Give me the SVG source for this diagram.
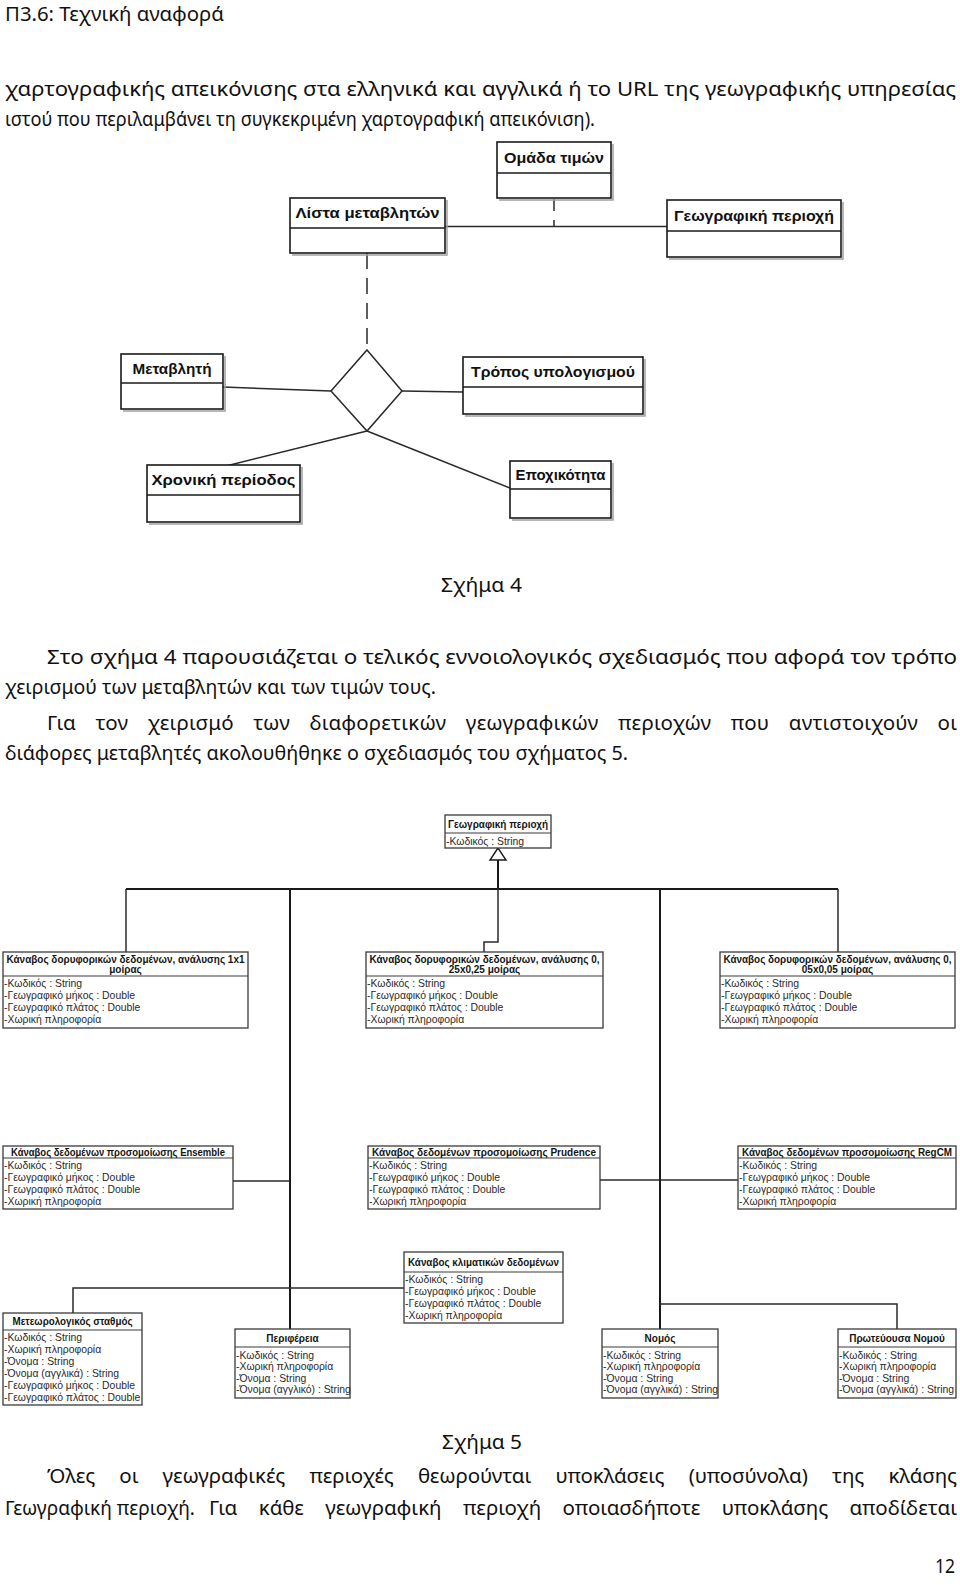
<svg xmlns="http://www.w3.org/2000/svg" width="960" height="1585" viewBox="0 0 960 1585">
<defs>
<style>
.t{font-family:"Noto Sans","DejaVu Sans",sans-serif;font-size:20.5px;fill:#111}
.h4{font-family:"Liberation Sans",Arial,sans-serif;font-weight:bold;font-size:15px;fill:#111;text-anchor:middle}
.b4{fill:#fff;stroke:#1a1a1a;stroke-width:1.6}
.sh{fill:none;stroke:#a0a0a0;stroke-width:1.5}
.dv4{stroke:#1a1a1a;stroke-width:1.4}
.c{fill:#fff;stroke:#3a3a3a;stroke-width:1.3}
.d{stroke:#3a3a3a;stroke-width:1.1}
.ch{font-family:"Liberation Sans",Arial,sans-serif;font-weight:bold;font-size:10px;fill:#151515;text-anchor:middle}
.ca{font-family:"Liberation Sans",Arial,sans-serif;font-size:10.4px;fill:#2a2a2a}
.l{fill:none;stroke:#2a2a2a;stroke-width:1.5}
.l2{fill:none;stroke:#1a1a1a;stroke-width:2}
.ds{stroke-dasharray:16 9}
</style>
</defs>
<rect width="960" height="1585" fill="#fff"/>

<g id="page-text">
<text class="t" x="5" y="21" font-size="16.5" textLength="219" lengthAdjust="spacingAndGlyphs">Π3.6: Τεχνική αναφορά</text>
<text class="t" x="5" y="96" textLength="951" lengthAdjust="spacingAndGlyphs">χαρτογραφικής απεικόνισης στα ελληνικά και αγγλικά ή το URL της γεωγραφικής υπηρεσίας</text>
<text class="t" x="5" y="126" textLength="590" lengthAdjust="spacingAndGlyphs">ιστού που περιλαμβάνει τη συγκεκριμένη χαρτογραφική απεικόνιση).</text>
<text class="t" x="441" y="592" textLength="81" lengthAdjust="spacingAndGlyphs">Σχήμα 4</text>
<text class="t" x="47" y="664" textLength="910" lengthAdjust="spacingAndGlyphs">Στο σχήμα 4 παρουσιάζεται ο τελικός εννοιολογικός σχεδιασμός που αφορά τον τρόπο</text>
<text class="t" x="5" y="694" textLength="431" lengthAdjust="spacingAndGlyphs">χειρισμού των μεταβλητών και των τιμών τους.</text>
<text class="t" x="47" y="730" word-spacing="14" textLength="910" lengthAdjust="spacing">Για τον χειρισμό των διαφορετικών γεωγραφικών περιοχών που αντιστοιχούν οι</text>
<text class="t" x="5" y="760" textLength="623" lengthAdjust="spacingAndGlyphs">διάφορες μεταβλητές ακολουθήθηκε ο σχεδιασμός του σχήματος 5.</text>
<text class="t" x="442" y="1449" textLength="80" lengthAdjust="spacingAndGlyphs">Σχήμα 5</text>
<text class="t" x="47" y="1483" word-spacing="19" textLength="910" lengthAdjust="spacing">Όλες οι γεωγραφικές περιοχές θεωρούνται υποκλάσεις (υποσύνολα) της κλάσης</text>
<text class="t" x="5" y="1515" font-size="16" textLength="190" lengthAdjust="spacingAndGlyphs">Γεωγραφική περιοχή.</text>
<text class="t" x="209" y="1515" word-spacing="16" textLength="748" lengthAdjust="spacing">Για κάθε γεωγραφική περιοχή οποιασδήποτε υποκλάσης αποδίδεται</text>
<text class="t" x="935" y="1573" textLength="20" lengthAdjust="spacingAndGlyphs">12</text>
</g>

<!-- Figure 4 connectors -->
<g id="fig4-connectors">
<line class="l" x1="445" y1="226.5" x2="667" y2="226.5"/>
<line class="l ds" x1="554" y1="199" x2="554" y2="226.5" stroke-dashoffset="4"/>
<line class="l ds" x1="367" y1="253" x2="367" y2="350"/>
<line class="l" x1="223" y1="387" x2="331" y2="391"/>
<line class="l" x1="402" y1="391" x2="463" y2="392"/>
<line class="l" x1="367" y1="431" x2="226" y2="466"/>
<line class="l" x1="367" y1="431" x2="510" y2="488"/>
</g>

<g id="fig4-diamond">
<polygon points="367,350 402,391 367,431 331,391" fill="#fff" stroke="#2a2a2a" stroke-width="1.5"/>
</g>

<g id="n-omada">
<polyline class="sh" points="499,200 613,200 613,144"/>
<rect class="b4" x="497" y="142" width="114" height="56"/>
<line class="dv4" x1="497" y1="173" x2="611" y2="173"/>
<text class="h4" x="554" y="163" textLength="100" lengthAdjust="spacingAndGlyphs">Ομάδα τιμών</text>
</g>
<g id="n-lista">
<polyline class="sh" points="292,255 447,255 447,200"/>
<rect class="b4" x="290" y="198" width="155" height="55"/>
<line class="dv4" x1="290" y1="228" x2="445" y2="228"/>
<text class="h4" x="367.5" y="218" textLength="144" lengthAdjust="spacingAndGlyphs">Λίστα μεταβλητών</text>
</g>
<g id="n-geo4">
<polyline class="sh" points="669,259 843,259 843,202"/>
<rect class="b4" x="667" y="200" width="174" height="57"/>
<line class="dv4" x1="667" y1="231" x2="841" y2="231"/>
<text class="h4" x="754" y="221" textLength="160" lengthAdjust="spacingAndGlyphs">Γεωγραφική περιοχή</text>
</g>
<g id="n-metavliti">
<polyline class="sh" points="123,411 225,411 225,356"/>
<rect class="b4" x="121" y="354" width="102" height="55"/>
<line class="dv4" x1="121" y1="383" x2="223" y2="383"/>
<text class="h4" x="172" y="374" textLength="79" lengthAdjust="spacingAndGlyphs">Μεταβλητή</text>
</g>
<g id="n-tropos">
<polyline class="sh" points="465,416 645,416 645,359"/>
<rect class="b4" x="463" y="357" width="180" height="57"/>
<line class="dv4" x1="463" y1="387" x2="643" y2="387"/>
<text class="h4" x="553" y="377" textLength="164" lengthAdjust="spacingAndGlyphs">Τρόπος υπολογισμού</text>
</g>
<g id="n-xroniki">
<polyline class="sh" points="149,524 302,524 302,467"/>
<rect class="b4" x="147" y="465" width="153" height="57"/>
<line class="dv4" x1="147" y1="495" x2="300" y2="495"/>
<text class="h4" x="223.5" y="485" textLength="144" lengthAdjust="spacingAndGlyphs">Χρονική περίοδος</text>
</g>
<g id="n-epoxikotita">
<polyline class="sh" points="512,520 613,520 613,463"/>
<rect class="b4" x="510" y="461" width="101" height="57"/>
<line class="dv4" x1="510" y1="489" x2="611" y2="489"/>
<text class="h4" x="560.5" y="480" textLength="90" lengthAdjust="spacingAndGlyphs">Εποχικότητα</text>
</g>

<!-- Figure 5 connectors -->
<g id="fig5-connectors">
<line class="l2" x1="498" y1="860" x2="498" y2="889"/>
<polyline class="l2" points="498,889 126,889"/>
<polyline class="l" points="126,889 126,952"/>
<polyline class="l2" points="498,889 838,889"/>
<polyline class="l" points="838,889 838,952"/>
<polyline class="l" points="498,889 498,942 484,942 484,952"/>
<line class="l2" x1="290" y1="889" x2="290" y2="1329"/>
<line class="l2" x1="660" y1="889" x2="660" y2="1329"/>
<line class="l" x1="233" y1="1181" x2="290" y2="1181"/>
<line class="l" x1="600" y1="1180" x2="738" y2="1180"/>
<polyline class="l" points="73,1313 73,1288 404,1288"/>
<polyline class="l" points="660,1304 897,1304 897,1329"/>
<polygon points="498,848 490,860 506,860" fill="#fff" stroke="#1a1a1a" stroke-width="1.4"/>
</g>

<g id="c-geo">
<rect class="c" x="445" y="815" width="106" height="33"/>
<line class="d" x1="445" y1="833" x2="551" y2="833"/>
<text class="ch" x="498" y="828" textLength="100" lengthAdjust="spacingAndGlyphs">Γεωγραφική περιοχή</text>
<text class="ca" x="446" y="845">-Κωδικός : String</text>
</g>

<g id="c-grid1x1">
<rect class="c" x="3" y="952" width="245" height="76"/>
<line class="d" x1="3" y1="976" x2="248" y2="976"/>
<text class="ch" x="125.5" y="962.5" textLength="238" lengthAdjust="spacingAndGlyphs">Κάναβος δορυφορικών δεδομένων, ανάλυσης 1x1</text>
<text class="ch" x="125.5" y="973">μοίρας</text>
<text class="ca" x="4" y="987">-Κωδικός : String</text>
<text class="ca" x="4" y="999">-Γεωγραφικό μήκος : Double</text>
<text class="ca" x="4" y="1011">-Γεωγραφικό πλάτος : Double</text>
<text class="ca" x="4" y="1023">-Χωρική πληροφορία</text>
</g>
<g id="c-grid025">
<rect class="c" x="366" y="952" width="237" height="76"/>
<line class="d" x1="366" y1="976" x2="603" y2="976"/>
<text class="ch" x="484.5" y="962.5" textLength="230" lengthAdjust="spacingAndGlyphs">Κάναβος δορυφορικών δεδομένων, ανάλυσης 0,</text>
<text class="ch" x="484.5" y="973">25x0,25 μοίρας</text>
<text class="ca" x="367" y="987">-Κωδικός : String</text>
<text class="ca" x="367" y="999">-Γεωγραφικό μήκος : Double</text>
<text class="ca" x="367" y="1011">-Γεωγραφικό πλάτος : Double</text>
<text class="ca" x="367" y="1023">-Χωρική πληροφορία</text>
</g>
<g id="c-grid005">
<rect class="c" x="720" y="952" width="235" height="76"/>
<line class="d" x1="720" y1="976" x2="955" y2="976"/>
<text class="ch" x="837.5" y="962.5" textLength="228" lengthAdjust="spacingAndGlyphs">Κάναβος δορυφορικών δεδομένων, ανάλυσης 0,</text>
<text class="ch" x="837.5" y="973">05x0,05 μοίρας</text>
<text class="ca" x="721" y="987">-Κωδικός : String</text>
<text class="ca" x="721" y="999">-Γεωγραφικό μήκος : Double</text>
<text class="ca" x="721" y="1011">-Γεωγραφικό πλάτος : Double</text>
<text class="ca" x="721" y="1023">-Χωρική πληροφορία</text>
</g>

<g id="c-ensemble">
<rect class="c" x="3" y="1146" width="230" height="63"/>
<line class="d" x1="3" y1="1158" x2="233" y2="1158"/>
<text class="ch" x="118" y="1155.5" textLength="214" lengthAdjust="spacingAndGlyphs">Κάναβος δεδομένων προσομοίωσης Ensemble</text>
<text class="ca" x="4" y="1169">-Κωδικός : String</text>
<text class="ca" x="4" y="1181">-Γεωγραφικό μήκος : Double</text>
<text class="ca" x="4" y="1193">-Γεωγραφικό πλάτος : Double</text>
<text class="ca" x="4" y="1205">-Χωρική πληροφορία</text>
</g>
<g id="c-prudence">
<rect class="c" x="368" y="1146" width="232" height="63"/>
<line class="d" x1="368" y1="1158" x2="600" y2="1158"/>
<text class="ch" x="484" y="1155.5" textLength="224" lengthAdjust="spacingAndGlyphs">Κάναβος δεδομένων προσομοίωσης Prudence</text>
<text class="ca" x="369" y="1169">-Κωδικός : String</text>
<text class="ca" x="369" y="1181">-Γεωγραφικό μήκος : Double</text>
<text class="ca" x="369" y="1193">-Γεωγραφικό πλάτος : Double</text>
<text class="ca" x="369" y="1205">-Χωρική πληροφορία</text>
</g>
<g id="c-regcm">
<rect class="c" x="738" y="1146" width="218" height="63"/>
<line class="d" x1="738" y1="1158" x2="956" y2="1158"/>
<text class="ch" x="847" y="1155.5" textLength="210" lengthAdjust="spacingAndGlyphs">Κάναβος δεδομένων προσομοίωσης RegCM</text>
<text class="ca" x="739" y="1169">-Κωδικός : String</text>
<text class="ca" x="739" y="1181">-Γεωγραφικό μήκος : Double</text>
<text class="ca" x="739" y="1193">-Γεωγραφικό πλάτος : Double</text>
<text class="ca" x="739" y="1205">-Χωρική πληροφορία</text>
</g>

<g id="c-klimatikon">
<rect class="c" x="404" y="1252" width="159" height="71"/>
<line class="d" x1="404" y1="1272" x2="563" y2="1272"/>
<text class="ch" x="483.5" y="1265.5" textLength="151" lengthAdjust="spacingAndGlyphs">Κάναβος κλιματικών δεδομένων</text>
<text class="ca" x="405" y="1283">-Κωδικός : String</text>
<text class="ca" x="405" y="1295">-Γεωγραφικό μήκος : Double</text>
<text class="ca" x="405" y="1307">-Γεωγραφικό πλάτος : Double</text>
<text class="ca" x="405" y="1319">-Χωρική πληροφορία</text>
</g>

<g id="c-meteo">
<rect class="c" x="3" y="1313" width="139" height="92"/>
<line class="d" x1="3" y1="1330" x2="142" y2="1330"/>
<text class="ch" x="72.5" y="1325" textLength="120" lengthAdjust="spacingAndGlyphs">Μετεωρολογικός σταθμός</text>
<text class="ca" x="4" y="1341">-Κωδικός : String</text>
<text class="ca" x="4" y="1353">-Χωρική πληροφορία</text>
<text class="ca" x="4" y="1365">-Όνομα : String</text>
<text class="ca" x="4" y="1377">-Όνομα (αγγλικά) : String</text>
<text class="ca" x="4" y="1389">-Γεωγραφικό μήκος : Double</text>
<text class="ca" x="4" y="1401">-Γεωγραφικό πλάτος : Double</text>
</g>

<g id="c-perifereia">
<rect class="c" x="235" y="1329" width="115" height="69"/>
<line class="d" x1="235" y1="1347" x2="350" y2="1347"/>
<text class="ch" x="292.5" y="1342">Περιφέρεια</text>
<text class="ca" x="236" y="1358.5">-Κωδικός : String</text>
<text class="ca" x="236" y="1370">-Χωρική πληροφορία</text>
<text class="ca" x="236" y="1381.5">-Όνομα : String</text>
<text class="ca" x="236" y="1393">-Όνομα (αγγλικό) : String</text>
</g>
<g id="c-nomos">
<rect class="c" x="602" y="1329" width="116" height="69"/>
<line class="d" x1="602" y1="1347" x2="718" y2="1347"/>
<text class="ch" x="660" y="1342">Νομός</text>
<text class="ca" x="603" y="1358.5">-Κωδικός : String</text>
<text class="ca" x="603" y="1370">-Χωρική πληροφορία</text>
<text class="ca" x="603" y="1381.5">-Όνομα : String</text>
<text class="ca" x="603" y="1393">-Όνομα (αγγλικά) : String</text>
</g>
<g id="c-proteuousa">
<rect class="c" x="838" y="1329" width="118" height="69"/>
<line class="d" x1="838" y1="1347" x2="956" y2="1347"/>
<text class="ch" x="897" y="1342">Πρωτεύουσα Νομού</text>
<text class="ca" x="839" y="1358.5">-Κωδικός : String</text>
<text class="ca" x="839" y="1370">-Χωρική πληροφορία</text>
<text class="ca" x="839" y="1381.5">-Όνομα : String</text>
<text class="ca" x="839" y="1393">-Όνομα (αγγλικά) : String</text>
</g>
</svg>
